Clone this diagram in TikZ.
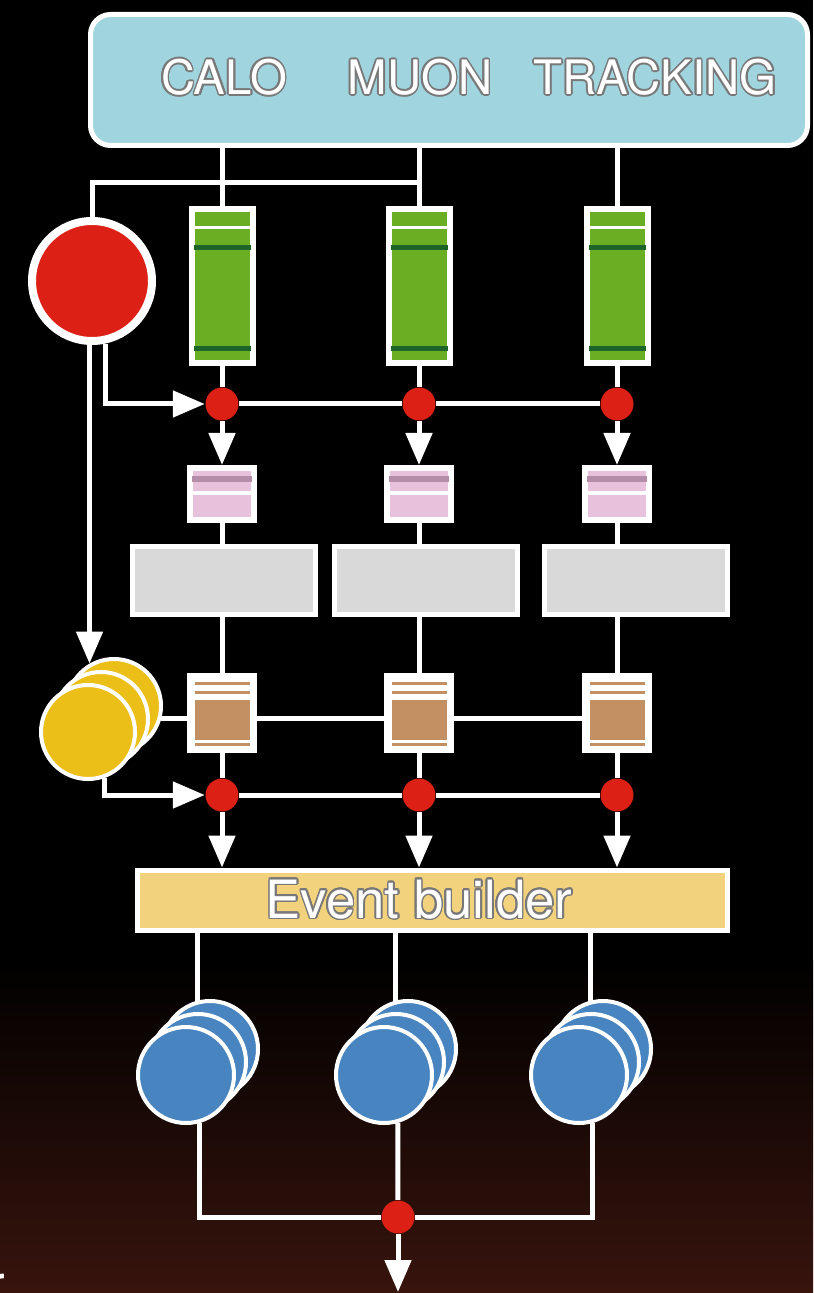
\documentclass[tikz,border=0pt]{standalone}
\usepackage{fontspec}
\setmainfont{TeX Gyre Heros}
\usepackage{contour}
\contourlength{0.45pt}
\usetikzlibrary{arrows.meta}

\begin{document}
\begin{tikzpicture}[x=0.1mm,y=-0.1mm,
    wire/.style={draw=white,line width=0.5mm},
    flow/.style={wire,-{Triangle[length=3.2mm,width=2.6mm]}},
    caption/.style={inner sep=0,text=white,font=\fontsize{13.5}{16}\selectfont},
    dot/.style={circle,fill=dotred,inner sep=0,minimum size=3.3mm},
    pipe/.style={rectangle,draw=white,line width=0.5mm,fill=white,inner sep=0,
      minimum width=6.2mm,minimum height=15.5mm,
      path picture={
        \fill[pipegreen] ([xshift=0.35mm,yshift=-0.35mm]path picture bounding box.north west)
          rectangle ([xshift=-0.35mm,yshift=0.35mm]path picture bounding box.south east);
        \draw[white,line width=0.35mm] ([yshift=-1.9mm]path picture bounding box.north west)
          -- ([yshift=-1.9mm]path picture bounding box.north east);
        \draw[darkgreen,line width=0.45mm] ([yshift=-3.9mm]path picture bounding box.north west)
          -- ([yshift=-3.9mm]path picture bounding box.north east);
        \draw[darkgreen,line width=0.45mm] ([yshift=1.5mm]path picture bounding box.south west)
          -- ([yshift=1.5mm]path picture bounding box.south east);
      }},
    fifo/.style={rectangle,draw=white,line width=0.5mm,fill=white,inner sep=0,
      minimum width=6.5mm,minimum height=5.3mm,
      path picture={
        \fill[fifopink] ([xshift=0.35mm,yshift=-0.35mm]path picture bounding box.north west)
          rectangle ([xshift=-0.35mm,yshift=0.35mm]path picture bounding box.south east);
        \draw[mauve,line width=0.6mm] ([yshift=-1.2mm]path picture bounding box.north west)
          -- ([yshift=-1.2mm]path picture bounding box.north east);
        \draw[white,line width=0.35mm] ([yshift=-2.55mm]path picture bounding box.north west)
          -- ([yshift=-2.55mm]path picture bounding box.north east);
      }},
    farm/.style={rectangle,draw=white,line width=0.5mm,fill=farmgray,inner sep=0,
      minimum width=18.3mm,minimum height=6.8mm},
    store/.style={rectangle,draw=white,line width=0.5mm,fill=white,inner sep=0,
      minimum width=6.5mm,minimum height=7.5mm,
      path picture={
        \fill[tan] ([xshift=0.5mm,yshift=-0.6mm]path picture bounding box.north west)
          rectangle ([xshift=-0.5mm,yshift=-0.9mm]path picture bounding box.north east);
        \fill[tan] ([xshift=0.5mm,yshift=-1.5mm]path picture bounding box.north west)
          rectangle ([xshift=-0.5mm,yshift=-1.8mm]path picture bounding box.north east);
        \fill[tan] ([xshift=0.5mm,yshift=-2.45mm]path picture bounding box.north west)
          rectangle ([xshift=-0.5mm,yshift=1.05mm]path picture bounding box.south east);
        \fill[tan] ([xshift=0.5mm,yshift=0.5mm]path picture bounding box.south west)
          rectangle ([xshift=-0.5mm,yshift=0.8mm]path picture bounding box.south east);
      }},
    disk/.style={circle,draw=white,line width=0.4mm,inner sep=0,minimum size=9.4mm},
    tape/.style={circle,draw=white,line width=0.4mm,inner sep=0,minimum size=9.6mm,fill=diskblue}]
  \definecolor{detblue}{RGB}{160,212,222}
  \definecolor{dotred}{RGB}{220,32,22}
  \definecolor{pipegreen}{RGB}{106,174,36}
  \definecolor{darkgreen}{RGB}{28,100,40}
  \definecolor{fifopink}{RGB}{232,194,220}
  \definecolor{mauve}{RGB}{180,142,168}
  \definecolor{farmgray}{RGB}{217,217,217}
  \definecolor{tan}{RGB}{194,144,98}
  \definecolor{bufyellow}{RGB}{236,190,24}
  \definecolor{diskblue}{RGB}{72,132,192}
  \definecolor{evbyellow}{RGB}{242,210,124}
  \definecolor{floor}{RGB}{56,20,13}
  \definecolor{rim}{RGB}{120,120,120}

  % backdrop
  \fill[black] (0,0) rectangle (813,1293);
  \shade[top color=black,bottom color=floor] (0,960) rectangle (813,1293);
  \useasboundingbox (0,0) rectangle (813,1293);

  % detectors
  \node[rectangle,rounded corners=2mm,draw=white,line width=0.5mm,fill=detblue,
        minimum width=71.7mm,minimum height=13.1mm] (det) at (449,80) {};
  \node[caption] (calo-txt) at (224,78) {\contour{rim}{CALO}};
  \node[caption] (muon-txt) at (420,78) {\contour{rim}{MUON}};
  \node[caption] (trk-txt) at (655,78) {\contour{rim}{TRACKING}};

  % level-1 trigger
  \node[circle,draw=white,line width=0.8mm,fill=dotred,inner sep=0,minimum size=12mm] (l1trig) at (92,281) {};

  % front-end pipelines
  \node[pipe] (calo-buf) at (222,286) {};
  \node[pipe] (muon-buf) at (419,286) {};
  \node[pipe] (trk-buf) at (617,286) {};

  \node[dot] (calo-d1) at (222,404) {};
  \node[dot] (muon-d1) at (419,404) {};
  \node[dot] (trk-d1) at (617,404) {};

  \node[fifo] (calo-pk) at (222,494) {};
  \node[fifo] (muon-pk) at (419,494) {};
  \node[fifo] (trk-pk) at (617,494) {};

  \node[farm] (calo-gr) at (224,581) {};
  \node[farm] (muon-gr) at (426,581) {};
  \node[farm] (trk-gr) at (636,581) {};

  \node[store] (calo-br) at (222,713) {};
  \node[store] (muon-br) at (419,713) {};
  \node[store] (trk-br) at (617,713) {};

  % level-2 buffers
  \node[disk,fill=bufyellow] (yel3) at (114,706) {};
  \node[disk,fill=bufyellow] (yel2) at (101,719) {};
  \node[disk,fill=bufyellow] (yel1) at (88,732) {};

  \node[dot] (calo-d2) at (222,795) {};
  \node[dot] (muon-d2) at (419,795) {};
  \node[dot] (trk-d2) at (617,795) {};

  \node[rectangle,draw=white,line width=0.5mm,fill=evbyellow,inner sep=0,
        minimum width=59mm,minimum height=6mm] (evb) at (432,900) {};
  \node[inner sep=0,text=white,font=\fontsize{15}{18}\selectfont] (evb-txt) at (419,900) {\contour{rim}{Event builder}};

  % storage
  \node[tape] (blu-a3) at (210,1049) {};
  \node[tape] (blu-a2) at (198,1062) {};
  \node[tape] (blu-a1) at (186,1075) {};
  \node[tape] (blu-b3) at (408,1049) {};
  \node[tape] (blu-b2) at (396,1062) {};
  \node[tape] (blu-b1) at (384,1075) {};
  \node[tape] (blu-c3) at (603,1049) {};
  \node[tape] (blu-c2) at (591,1062) {};
  \node[tape] (blu-c1) at (579,1075) {};

  \node[dot] (sink) at (398,1217) {};
  \coordinate (out) at (398,1292);
  \coordinate (tap) at (419,183);

  \node[inner sep=0,text=white,font=\fontsize{15}{18}\selectfont,anchor=base east] (frag) at (6,1302) {r};

  % readout lines
  \draw[wire] (det.south -| calo-buf.north) -- (calo-buf.north);
  \draw[wire] (det.south -| muon-buf.north) -- (muon-buf.north);
  \draw[wire] (det.south -| trk-buf.north) -- (trk-buf.north);
  \draw[wire] (tap) -| (l1trig.north);

  \draw[wire] (calo-buf) -- (calo-d1);
  \draw[wire] (muon-buf) -- (muon-d1);
  \draw[wire] (trk-buf) -- (trk-d1);
  \draw[wire] (calo-d1) -- (muon-d1);
  \draw[wire] (muon-d1) -- (trk-d1);
  \draw[flow] (l1trig.-78) |- (calo-d1);
  \draw[flow] (l1trig.south -| yel3.120) -- (yel3.120);

  \draw[flow] (calo-d1) -- (calo-pk);
  \draw[flow] (muon-d1) -- (muon-pk);
  \draw[flow] (trk-d1) -- (trk-pk);

  \draw[wire] (calo-pk) -- (calo-pk |- calo-gr.north);
  \draw[wire] (muon-pk) -- (muon-pk |- muon-gr.north);
  \draw[wire] (trk-pk) -- (trk-pk |- trk-gr.north);
  \draw[wire] (calo-br |- calo-gr.south) -- (calo-br);
  \draw[wire] (muon-br |- muon-gr.south) -- (muon-br);
  \draw[wire] (trk-br |- trk-gr.south) -- (trk-br);

  \draw[wire] (yel3.-15) -- (yel3.-15 -| calo-br.west);
  \draw[wire] (calo-br.east |- yel3.-15) -- (muon-br.west |- yel3.-15);
  \draw[wire] (muon-br.east |- yel3.-15) -- (trk-br.west |- yel3.-15);

  \draw[wire] (calo-br) -- (calo-d2);
  \draw[wire] (muon-br) -- (muon-d2);
  \draw[wire] (trk-br) -- (trk-d2);
  \draw[wire] (calo-d2) -- (muon-d2);
  \draw[wire] (muon-d2) -- (trk-d2);
  \draw[flow] (yel1.-70) |- (calo-d2);

  \draw[flow] (calo-d2) -- (calo-d2 |- evb.north);
  \draw[flow] (muon-d2) -- (muon-d2 |- evb.north);
  \draw[flow] (trk-d2) -- (trk-d2 |- evb.north);

  \draw[wire] (evb.south -| blu-a3.105) -- (blu-a3.105);
  \draw[wire] (evb.south -| blu-b3.105) -- (blu-b3.105);
  \draw[wire] (evb.south -| blu-c3.105) -- (blu-c3.105);

  \draw[wire] (blu-a1.-74) |- (sink);
  \draw[wire] (blu-b1.-74) -- (sink);
  \draw[wire] (blu-c1.-74) |- (sink);
  \draw[flow] (sink) -- (out);

\end{tikzpicture}
\end{document}
